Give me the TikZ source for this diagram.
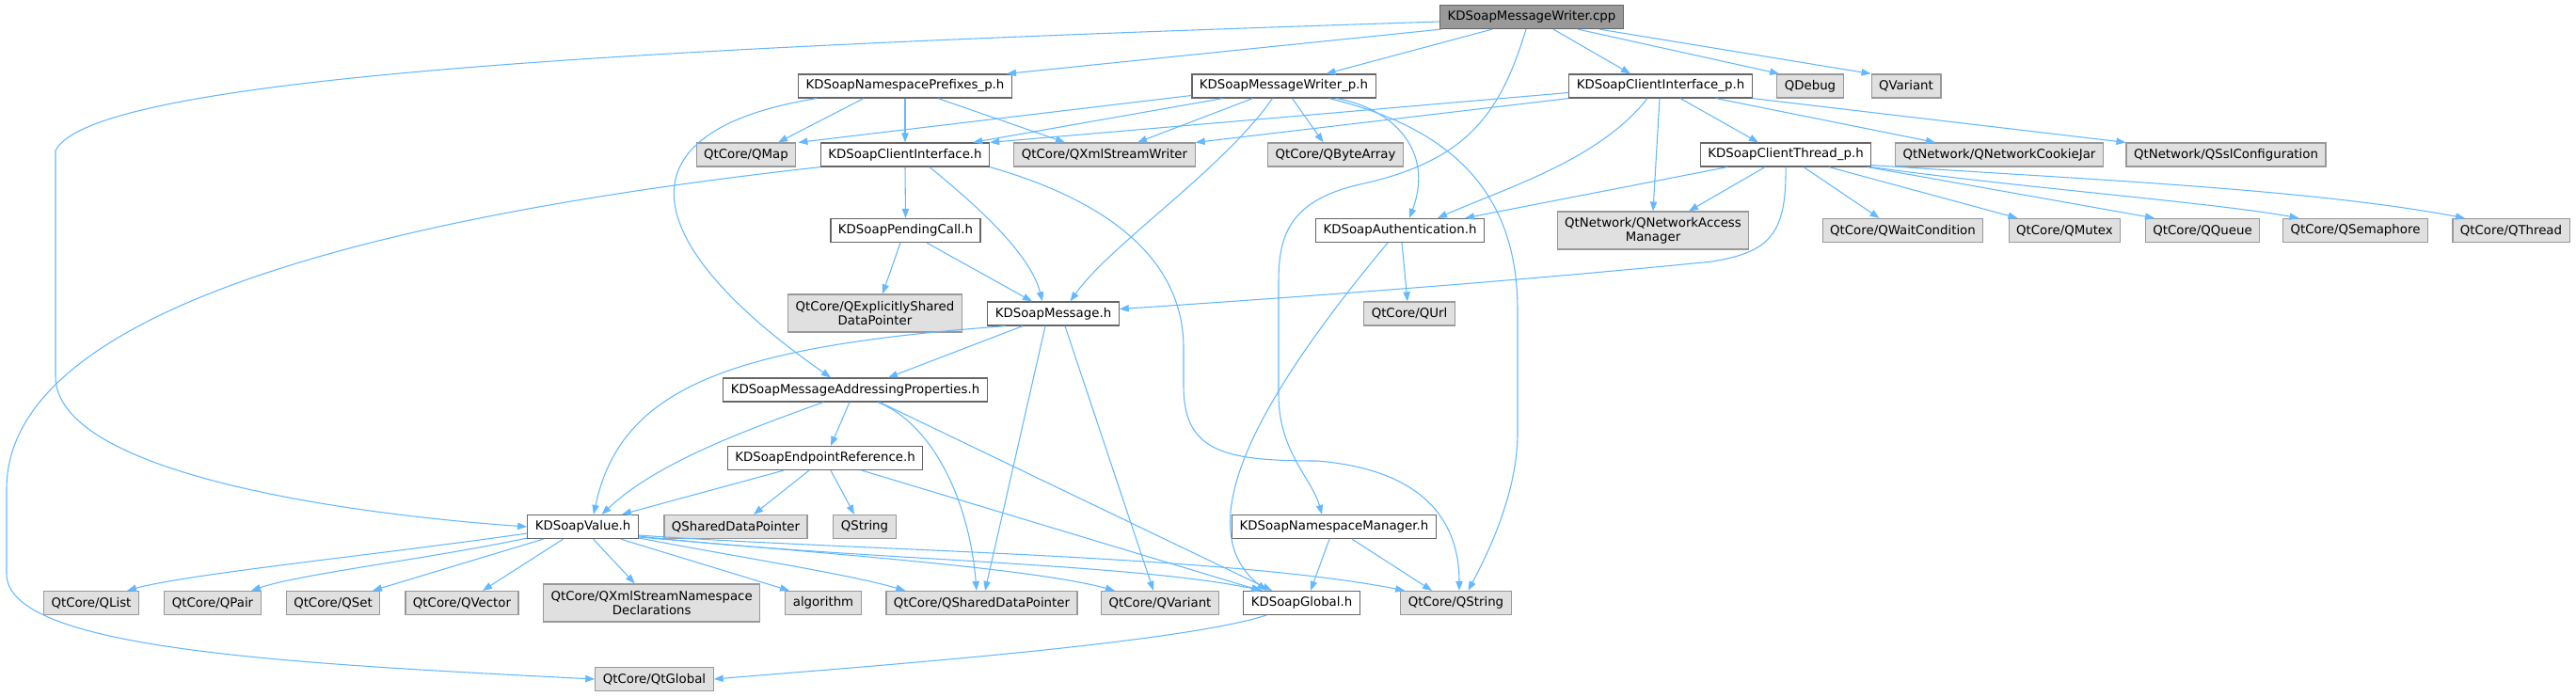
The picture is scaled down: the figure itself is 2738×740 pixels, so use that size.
\documentclass[tikz,border=0pt]{standalone}
\usepackage{fontspec}
\setmainfont{DejaVu Sans}
\usepackage{xcolor}
\usepackage{tikz}
\usetikzlibrary{arrows.meta}
\definecolor{edgeblue}{HTML}{63B8FF}
\definecolor{sysfill}{HTML}{E0E0E0}
\definecolor{sysline}{HTML}{999999}
\definecolor{fileline}{HTML}{666666}
\begin{document}
\begin{tikzpicture}[x=0.75pt, y=-0.75pt,
	filebox/.style={font=\fontsize{10}{11}\selectfont, draw=fileline, fill=white, line width=0.9pt, minimum height=18.75pt, inner xsep=6pt, inner ysep=0, align=center},
	sysbox/.style={filebox, draw=sysline, fill=sysfill},
	rootbox/.style={filebox, draw=fileline, fill=sysline},
	tallbox/.style={sysbox, minimum height=30pt},
	dep/.style={draw=edgeblue, line width=0.8pt, -{Triangle[length=7.5pt, width=5.5pt]}}
]
\useasboundingbox (0,0) rectangle (2738,740);

\node[rootbox] (root) at (1628,18) {KDSoapMessageWriter.cpp};

\node[filebox] (nsp) at (962,91.5) {KDSoapNamespacePrefixes\_p.h};
\node[filebox] (mwp) at (1364.5,91.5) {KDSoapMessageWriter\_p.h};
\node[filebox] (cip) at (1765,91.5) {KDSoapClientInterface\_p.h};
\node[sysbox] (qdebug) at (1924,91.5) {QDebug};
\node[sysbox] (qvariant) at (2026,91.5) {QVariant};

\node[sysbox] (qmap) at (793,164.5) {QtCore/QMap};
\node[filebox] (ci) at (962,164.5) {KDSoapClientInterface.h};
\node[sysbox] (qxsw) at (1174,164.5) {QtCore/QXmlStreamWriter};
\node[sysbox] (qba) at (1419.5,164.5) {QtCore/QByteArray};
\node[filebox] (ctp) at (1898,164.5) {KDSoapClientThread\_p.h};
\node[sysbox] (qncj) at (2125,164.5) {QtNetwork/QNetworkCookieJar};
\node[sysbox] (qssl) at (2366,164.5) {QtNetwork/QSslConfiguration};

\node[filebox] (pc) at (962.5,245) {KDSoapPendingCall.h};
\node[filebox] (auth) at (1488,245) {KDSoapAuthentication.h};
\node[tallbox] (qnam) at (1757,245) {QtNetwork/QNetworkAccess\\Manager};
\node[sysbox] (qwc) at (2022.5,245) {QtCore/QWaitCondition};
\node[sysbox] (qmutex) at (2194.5,245) {QtCore/QMutex};
\node[sysbox] (qqueue) at (2341,245) {QtCore/QQueue};
\node[sysbox] (qsem) at (2503.5,245) {QtCore/QSemaphore};
\node[sysbox] (qthread) at (2669,245) {QtCore/QThread};

\node[tallbox] (qesdp) at (930,333) {QtCore/QExplicitlyShared\\DataPointer};
\node[filebox] (msg) at (1119.5,333.5) {KDSoapMessage.h};
\node[sysbox] (qurl) at (1498,333.5) {QtCore/QUrl};

\node[filebox] (map) at (909,414.5) {KDSoapMessageAddressingProperties.h};
\node[filebox] (epr) at (877,487) {KDSoapEndpointReference.h};

\node[filebox] (val) at (619.6,560) {KDSoapValue.h};
\node[sysbox] (qsdp) at (782,560) {QSharedDataPointer};
\node[sysbox] (qstr) at (919,560) {QString};
\node[filebox] (nsm) at (1418,560) {KDSoapNamespaceManager.h};

\node[sysbox] (qlist) at (97,641) {QtCore/QList};
\node[sysbox] (qpair) at (226,641) {QtCore/QPair};
\node[sysbox] (qset) at (354,641) {QtCore/QSet};
\node[sysbox] (qvec) at (491,641) {QtCore/QVector};
\node[tallbox] (qxsnd) at (692.7,641) {QtCore/QXmlStreamNamespace\\Declarations};
\node[sysbox] (algo) at (875,641) {algorithm};
\node[sysbox] (qcsdp) at (1043.5,641) {QtCore/QSharedDataPointer};
\node[sysbox] (qcvar) at (1233,641) {QtCore/QVariant};
\node[filebox] (glob) at (1383.5,641) {KDSoapGlobal.h};
\node[sysbox] (qcstr) at (1547.5,641) {QtCore/QString};

\node[sysbox] (qtg) at (695.5,722) {QtCore/QtGlobal};

% KDSoapMessageWriter.cpp
\draw[dep] ([shift={(0,5)}]root.west) .. controls (700,50) and (100,80) .. (59,160) -- (59,400) .. controls (59,500) and (350,545) .. (val.west);
\draw[dep] ([shift={(2,0)}]root.south west) -- ([shift={(-6,0)}]nsp.north east);
\draw[dep] ([shift={(-42,0)}]root.south) -- ([shift={(45,0)}]mwp.north);
\draw[dep] ([shift={(-6,0)}]root.south) .. controls (1595,120) and (1560,170) .. (1450,195) .. controls (1370,212) and (1359,250) .. (1359,300) -- (1359,420) .. controls (1359,480) and (1395,510) .. ([shift={(-13,0)}]nsm.north);
\draw[dep] ([shift={(23,0)}]root.south) -- ([shift={(-32,0)}]cip.north);
\draw[dep] ([shift={(49,0)}]root.south) -- ([shift={(3,0)}]qdebug.north west);
\draw[dep] ([shift={(-26,0)}]root.south east) -- (qvariant.north west);

% KDSoapNamespacePrefixes_p.h
\draw[dep] ([shift={(-44,0)}]nsp.south) -- ([shift={(34,0)}]qmap.north);
\draw[dep] (nsp.south) -- (ci.north);
\draw[dep] ([shift={(35,0)}]nsp.south) -- ([shift={(-42,0)}]qxsw.north);
\draw[dep] ([shift={(-94,0)}]nsp.south) .. controls (650,140) and (680,260) .. ([shift={(-26,0)}]map.north);

% KDSoapMessageWriter_p.h
\draw[dep] ([shift={(0,10)}]mwp.west) -- ([shift={(2,0)}]qmap.north east);
\draw[dep] ([shift={(-65,0)}]mwp.south) -- ([shift={(-18,0)}]ci.north east);
\draw[dep] ([shift={(-33,0)}]mwp.south) -- ([shift={(35,0)}]qxsw.north);
\draw[dep] ([shift={(-12,0)}]mwp.south) .. controls (1300,180) and (1180,260) .. ([shift={(18,0)}]msg.north);
\draw[dep] ([shift={(9,0)}]mwp.south) -- ([shift={(-13,0)}]qba.north);
\draw[dep] ([shift={(56,0)}]mwp.south) .. controls (1480,115) and (1525,160) .. ([shift={(10,0)}]auth.north);
\draw[dep] ([shift={(48,0)}]mwp.south) .. controls (1560,140) and (1613,220) .. (1613,330) -- (1613,460) .. controls (1613,530) and (1575,600) .. ([shift={(13,0)}]qcstr.north);

% KDSoapClientInterface_p.h
\draw[dep] ([shift={(0,7)}]cip.west) -- (ci.north east);
\draw[dep] (cip.south west) -- (qxsw.north east);
\draw[dep] ([shift={(-14,0)}]cip.south) .. controls (1700,170) and (1600,200) .. ([shift={(40,0)}]auth.north);
\draw[dep] ([shift={(-1,0)}]cip.south) -- (qnam.north);
\draw[dep] ([shift={(21,0)}]cip.south) -- ([shift={(-29,0)}]ctp.north);
\draw[dep] ([shift={(59,0)}]cip.south) -- ([shift={(-68,0)}]qncj.north);
\draw[dep] (cip.south east) -- (qssl.north west);

% KDSoapClientThread_p.h
\draw[dep] ([shift={(-62,0)}]ctp.south) -- ([shift={(-21,0)}]auth.north east);
\draw[dep] ([shift={(-22,0)}]ctp.south) -- ([shift={(38,0)}]qnam.north);
\draw[dep] (ctp.south) .. controls (1899,250) and (1880,268) .. (1820,278) .. controls (1600,300) and (1350,318) .. ([shift={(0,-5)}]msg.east);
\draw[dep] ([shift={(19,0)}]ctp.south) -- ([shift={(-25,0)}]qwc.north);
\draw[dep] ([shift={(46,0)}]ctp.south) -- ([shift={(-50,0)}]qmutex.north);
\draw[dep] ([shift={(87,0)}]ctp.south) -- ([shift={(-51,0)}]qqueue.north);
\draw[dep] (ctp.south east) .. controls (2150,200) and (2350,215) .. ([shift={(-60,0)}]qsem.north);
\draw[dep] ([shift={(0,11)}]ctp.east) .. controls (2200,190) and (2450,200) .. ([shift={(-49,0)}]qthread.north);

% KDSoapClientInterface.h
\draw[dep] (ci.south west) .. controls (400,230) and (7,330) .. (7,520) -- (7,610) .. controls (7,690) and (300,705) .. (qtg.west);
\draw[dep] (ci.south) -- (pc.north);
\draw[dep] ([shift={(26,0)}]ci.south) .. controls (1040,220) and (1095,270) .. ([shift={(-11.5,0)}]msg.north);
\draw[dep] (ci.south east) .. controls (1200,220) and (1258,290) .. (1258,370) -- (1258,410) .. controls (1258,480) and (1300,490) .. (1400,490) .. controls (1520,500) and (1551,560) .. ([shift={(3.5,0)}]qcstr.north);

% KDSoapPendingCall.h
\draw[dep] ([shift={(-5.5,0)}]pc.south) -- ([shift={(8,0)}]qesdp.north);
\draw[dep] ([shift={(22.5,0)}]pc.south) -- ([shift={(-22.5,0)}]msg.north);

% KDSoapAuthentication.h
\draw[dep] ([shift={(2,0)}]auth.south) -- ([shift={(-2,0)}]qurl.north);
\draw[dep] ([shift={(-13,0)}]auth.south) .. controls (1340,420) and (1260,560) .. ([shift={(-37.5,0)}]glob.north);

% KDSoapMessage.h
\draw[dep] ([shift={(-50.5,0)}]msg.south) .. controls (780,368) and (660,410) .. ([shift={(11.4,0)}]val.north);
\draw[dep] ([shift={(-32.5,0)}]msg.south) -- ([shift={(35,0)}]map.north);
\draw[dep] ([shift={(-8.5,0)}]msg.south) -- ([shift={(3.5,0)}]qcsdp.north);
\draw[dep] ([shift={(12.5,0)}]msg.south) -- ([shift={(-7,0)}]qcvar.north);

% KDSoapMessageAddressingProperties.h
\draw[dep] ([shift={(-34,0)}]map.south) .. controls (800,455) and (700,490) .. ([shift={(20,0)}]val.north);
\draw[dep] ([shift={(-6,0)}]map.south) -- ([shift={(6,0)}]epr.north);
\draw[dep] ([shift={(24,0)}]map.south) .. controls (990,450) and (1030,530) .. ([shift={(-5.5,0)}]qcsdp.north);
\draw[dep] ([shift={(26,0)}]map.south) -- ([shift={(-31.5,0)}]glob.north);

% KDSoapEndpointReference.h
\draw[dep] ([shift={(-44,0)}]epr.south) -- ([shift={(-18,0)}]val.north east);
\draw[dep] ([shift={(-17,0)}]epr.south) -- ([shift={(19,0)}]qsdp.north);
\draw[dep] ([shift={(6,0)}]epr.south) -- ([shift={(-11,0)}]qstr.north);
\draw[dep] ([shift={(39,0)}]epr.south) -- ([shift={(-43.5,0)}]glob.north);

% KDSoapValue.h
\draw[dep] ([shift={(0,7)}]val.west) .. controls (400,590) and (200,610) .. ([shift={(38,0)}]qlist.north);
\draw[dep] ([shift={(0,-1)}]val.south west) .. controls (450,595) and (320,610) .. ([shift={(41,0)}]qpair.north);
\draw[dep] ([shift={(-42,0)}]val.south) -- ([shift={(42,0)}]qset.north);
\draw[dep] ([shift={(-21,0)}]val.south) -- ([shift={(22,0)}]qvec.north);
\draw[dep] ([shift={(11,0)}]val.south) -- ([shift={(-18,0)}]qxsnd.north);
\draw[dep] ([shift={(40,0)}]val.south) -- ([shift={(-36,0)}]algo.north);
\draw[dep] ([shift={(0,12)}]val.east) .. controls (800,595) and (900,610) .. ([shift={(21,0)}]qcsdp.north west);
\draw[dep] ([shift={(0,11)}]val.east) .. controls (900,590) and (1100,605) .. ([shift={(15,0)}]qcvar.north west);
\draw[dep] ([shift={(0,10)}]val.east) .. controls (900,595) and (1200,598) .. ([shift={(-41.5,0)}]glob.north);
\draw[dep] ([shift={(0,9)}]val.east) .. controls (900,585) and (1300,590) .. ([shift={(5,0)}]qcstr.north west);

% KDSoapNamespaceManager.h
\draw[dep] ([shift={(-5,0)}]nsm.south) -- ([shift={(9.5,0)}]glob.north);
\draw[dep] ([shift={(19,0)}]nsm.south) -- ([shift={(-25.5,0)}]qcstr.north);

% KDSoapGlobal.h
\draw[dep] ([shift={(-37.5,0)}]glob.south) .. controls (1250,685) and (900,710) .. (qtg.east);
\end{tikzpicture}
\end{document}
